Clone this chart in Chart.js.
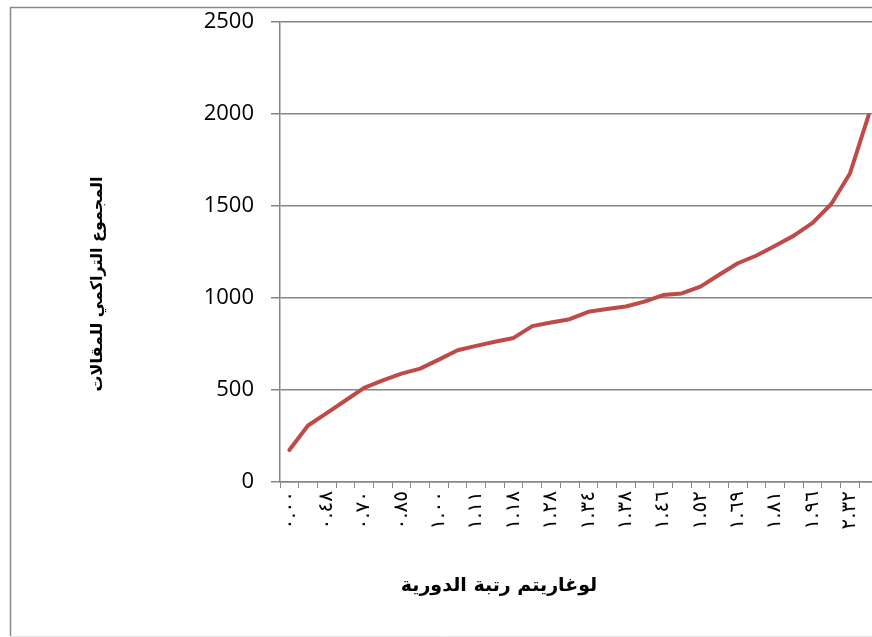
<!DOCTYPE html>
<html><head><meta charset="utf-8">
<script src="https://cdn.jsdelivr.net/npm/chart.js@4"></script>
<style>
html,body{margin:0;padding:0;overflow:hidden;background:#fff;width:872px;height:637px}
#wrap{position:absolute;left:0;top:0;width:880px;height:637px}
</style></head>
<body><div id="wrap"><canvas id="c" width="880" height="637"></canvas></div>
<script>
// log of journal rank (category labels, Arabic-Indic digits)
const categories = [
  '٠.٠٠','٠.٣٠','٠.٤٨','٠.٦٠','٠.٧٠','٠.٧٨','٠.٨٥','٠.٩٥',
  '١.٠٠','١.٠٤','١.١١','١.١٥','١.١٨','١.٢٣','١.٢٨','١.٣٠',
  '١.٣٤','١.٣٦','١.٣٨','١.٤٣','١.٤٦','١.٤٩','١.٥٢','١.٦٠',
  '١.٦٩','١.٧٥','١.٨١','١.٨٩','١.٩٦','٢.٠٩','٢.٣٢','٢.٤٧'
];
// cumulative number of articles
const cumulativeArticles = [
  174, 307, 374, 443, 512, 552, 589, 616,
  665, 716, 740, 762, 783, 847, 867, 885,
  925, 940, 954, 980, 1016, 1025, 1062, 1126,
  1189, 1231, 1284, 1339, 1408, 1511, 1677, 1994
];
const yMin = 0, yMax = 2500, yStep = 500;
const xTitle = 'لوغاريتم رتبة الدورية';
const yTitle = 'المجموع التراكمي للمقالات';

const frame = {
  id: 'frame',
  beforeDraw(chart) {
    const ctx = chart.ctx;
    ctx.letterSpacing = '0px';
    ctx.save();
    ctx.fillStyle = '#fff';
    ctx.fillRect(0, 0, chart.width, chart.height);
    ctx.strokeStyle = '#8a8a8a';
    ctx.lineWidth = 1.5;
    ctx.beginPath();
    ctx.moveTo(10.5, 636);
    ctx.lineTo(10.5, 7.5);
    ctx.lineTo(chart.width, 7.5);
    ctx.stroke();
    ctx.strokeStyle = '#e6e6e6';
    ctx.lineWidth = 1;
    ctx.beginPath();
    ctx.moveTo(10.5, 636.5);
    ctx.lineTo(chart.width, 636.5);
    ctx.stroke();
    ctx.restore();
  },
  afterDatasetsDraw(chart) {
    // x tick labels are drawn after this (z: 1): spread the digits like the original
    chart.ctx.letterSpacing = '5px';
  },
  afterDraw(chart) {
    const ctx = chart.ctx;
    ctx.letterSpacing = '0px';
    ctx.save();
    ctx.fillStyle = '#000';
    ctx.textAlign = 'center';
    ctx.textBaseline = 'middle';
    ctx.font = 'bold 19px "DejaVu Sans", Arial, sans-serif';
    ctx.fillText(xTitle, 499, 586);
    ctx.translate(98, 284);
    ctx.rotate(-Math.PI / 2);
    ctx.font = 'bold 16px "DejaVu Sans", Arial, sans-serif';
    ctx.fillText(yTitle, 0, 0);
    ctx.restore();
  }
};

new Chart(document.getElementById('c'), {
  type: 'line',
  data: {
    labels: categories,
    datasets: [{
      data: cumulativeArticles,
      borderColor: '#BE4B48',
      borderWidth: 4,
      pointRadius: 0,
      tension: 0,
      fill: false,
      borderJoinStyle: 'round',
      borderCapStyle: 'round'
    }]
  },
  options: {
    responsive: false,
    animation: false,
    devicePixelRatio: 1,
    layout: { padding: { top: 22, right: 2, bottom: 0, left: 0 } },
    plugins: { legend: { display: false }, tooltip: { enabled: false } },
    scales: {
      x: {
        type: 'category',
        offset: true,
        grid: { offset: true, drawOnChartArea: false, drawTicks: true, tickLength: 6, color: '#868686', lineWidth: 1 },
        border: { color: '#868686', width: 1.5 },
        ticks: {
          autoSkip: false, maxRotation: 90, minRotation: 90, padding: 3, z: 1,
          color: '#000', font: { family: '"DejaVu Sans"', size: 20 },
          callback: (v, i) => (i % 2 === 0 ? categories[i] : '')
        },
        afterFit: s => { s.height = 155; s.paddingLeft = 0; s.paddingRight = 0; }
      },
      y: {
        min: yMin, max: yMax,
        grid: { color: '#868686', lineWidth: 1.5, tickLength: 9, drawTicks: true },
        border: { color: '#868686', width: 1.5 },
        ticks: {
          stepSize: yStep, padding: 17, color: '#000',
          font: { family: '"Open Sans"', size: 22 },
          callback: v => String(v)
        },
        afterFit: s => { s.width = 280; s.paddingTop = 0; s.paddingBottom = 0; }
      }
    }
  },
  plugins: [frame]
});
</script>
</body></html>
